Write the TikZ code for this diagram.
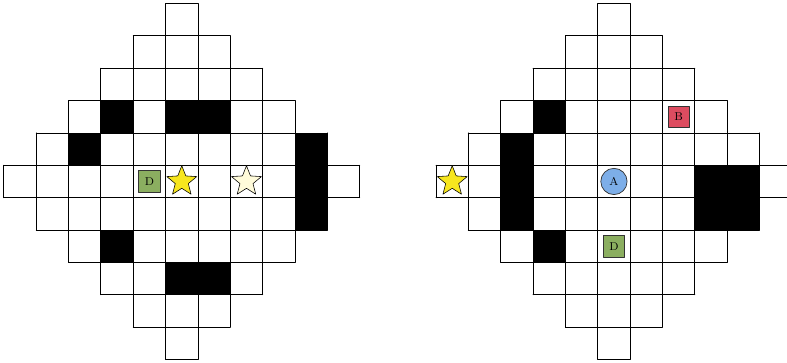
\documentclass[tikz,border=0pt]{standalone}
\usetikzlibrary{shapes.geometric}

\begin{document}
\begin{tikzpicture}
% Two diamond boards with walls and tokens
\def\cellsz{0.8cm}
\providecommand{\boardLineColor}{black}
\providecommand{\boardLineWidth}{0.6pt}
\definecolor{tokenGreen}{RGB}{139,174,96}
\definecolor{tokenRed}{RGB}{221,76,96}
\definecolor{tokenBlue}{RGB}{125,174,232}
\definecolor{goalYellow}{RGB}{247,230,30}
\definecolor{goalPale}{RGB}{255,251,218}
\tikzset{
  boxtoken/.style={draw=black!80, line width=0.5pt, minimum size=0.53cm, inner sep=0pt, font=\footnotesize},
  roundtoken/.style={circle, draw=black!80, line width=0.5pt, minimum size=0.65cm, inner sep=0pt, font=\footnotesize},
  goal/.style={star, star points=5, star point ratio=2.3, draw=black, line width=0.4pt, minimum size=0.78cm, inner sep=0pt}
}
\providecommand{\boardLines}{%
  % Vertical lines
  \begin{scope}[draw=\boardLineColor, line width=\boardLineWidth]
    \draw (0,5) -- (0,6);
    \draw (1,4) -- (1,7);
    \draw (2,3) -- (2,8);
    \draw (3,2) -- (3,9);
    \draw (4,1) -- (4,10);
    \draw (5,0) -- (5,11);
    \draw (6,0) -- (6,11);
    \draw (7,1) -- (7,10);
    \draw (8,2) -- (8,9);
    \draw (9,3) -- (9,8);
    \draw (10,4) -- (10,7);
    \draw (11,5) -- (11,6);
  \end{scope}
  % Horizontal lines
  \begin{scope}[draw=\boardLineColor, line width=\boardLineWidth]
    \draw (5,0) -- (6,0);
    \draw (4,1) -- (7,1);
    \draw (3,2) -- (8,2);
    \draw (2,3) -- (9,3);
    \draw (1,4) -- (10,4);
    \draw (0,5) -- (11,5);
    \draw (0,6) -- (11,6);
    \draw (1,7) -- (10,7);
    \draw (2,8) -- (9,8);
    \draw (3,9) -- (8,9);
    \draw (4,10) -- (7,10);
    \draw (5,11) -- (6,11);
  \end{scope}}
\begin{scope}[x=\cellsz, y=\cellsz, line cap=round, line join=round]
  \useasboundingbox (-0.12,-0.11) rectangle (24.21,11.11);
  % Left board
  \begin{scope}
    % Walls
    \begin{scope}[fill=black]
      \fill (3,7) rectangle ++(1,1);
      \fill (5,7) rectangle ++(1,1);
      \fill (6,7) rectangle ++(1,1);
      \fill (2,6) rectangle ++(1,1);
      \fill (9,6) rectangle ++(1,1);
      \fill (9,5) rectangle ++(1,1);
      \fill (9,4) rectangle ++(1,1);
      \fill (3,3) rectangle ++(1,1);
      \fill (5,2) rectangle ++(1,1);
      \fill (6,2) rectangle ++(1,1);
    \end{scope}
    \boardLines
    % Tokens
    \node[boxtoken, fill=tokenGreen] (lD) at (4.5,5.5) {D};
    \node[goal, fill=goalYellow] (lgoal) at (5.5,5.5) {};
    \node[goal, fill=goalPale] (lghost) at (7.5,5.5) {};
  \end{scope}
  % Right board
  \begin{scope}[xshift=13.36*\cellsz]
    % Walls
    \begin{scope}[fill=black]
      \fill (3,7) rectangle ++(1,1);
      \fill (2,6) rectangle ++(1,1);
      \fill (2,5) rectangle ++(1,1);
      \fill (2,4) rectangle ++(1,1);
      \fill (8,5) rectangle ++(1,1);
      \fill (9,5) rectangle ++(1,1);
      \fill (8,4) rectangle ++(1,1);
      \fill (9,4) rectangle ++(1,1);
      \fill (3,3) rectangle ++(1,1);
    \end{scope}
    \boardLines
    % Tokens
    \node[goal, fill=goalYellow] (rgoal) at (0.5,5.5) {};
    \node[roundtoken, fill=tokenBlue] (rA) at (5.5,5.5) {A};
    \node[boxtoken, fill=tokenRed] (rB) at (7.5,7.5) {B};
    \node[boxtoken, fill=tokenGreen] (rD) at (5.5,3.5) {D};
  \end{scope}
\end{scope}
\end{tikzpicture}
\end{document}
